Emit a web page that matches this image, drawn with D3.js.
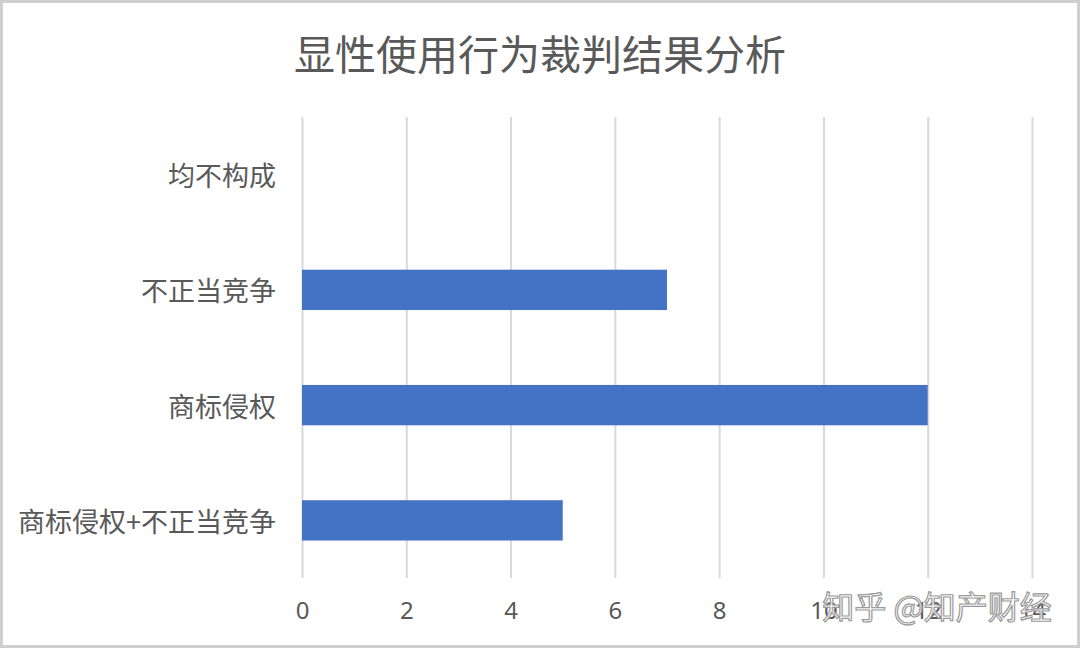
<!DOCTYPE html>
<html>
<head>
<meta charset="utf-8">
<script src="https://cdn.jsdelivr.net/npm/d3@7"></script>
<style>
  html, body { margin: 0; padding: 0; background: #fff; }
  svg { display: block; font-family: "Noto Sans CJK SC", "Noto Sans", sans-serif; }
</style>
</head>
<body>
<div class="chart"></div>
<script>
// data
const title = '显性使用行为裁判结果分析';
const categories = ['均不构成', '不正当竞争', '商标侵权', '商标侵权+不正当竞争'];
const counts = [0, 7, 12, 5];
const xTicks = [0, 2, 4, 6, 8, 10, 12, 14];
const watermark = '知乎 @知产财经';

const svg_width = 1080;
const svg_height = 649;
const plot = {left: 302, right: 1032, top: 117, bottom: 578};

const svg = d3.select('.chart').append('svg')
  .attr('width', svg_width).attr('height', svg_height);

// frame
svg.append('rect')
  .attr('x', 1.5).attr('y', 1.5)
  .attr('width', svg_width - 3).attr('height', svg_height - 4)
  .attr('fill', '#fff').attr('stroke', '#cfcfcf').attr('stroke-width', 3);

const xScale = d3.scaleLinear().domain([0, 14]).range([plot.left, plot.right]);
const yScale = d3.scaleBand().domain(categories).range([plot.top, plot.bottom])
  .paddingInner(0.65).paddingOuter(0.325);

// gridlines + tick labels
const xAxis = d3.axisBottom(xScale).tickValues(xTicks).tickFormat(d3.format('d'))
  .tickSizeInner(-(plot.bottom - plot.top)).tickSizeOuter(0).tickPadding(24);
const xAxisDraw = svg.append('g').attr('class', 'x axis')
  .attr('transform', `translate(0,${plot.bottom})`)
  .call(xAxis);
xAxisDraw.select('.domain').remove();
xAxisDraw.selectAll('line').attr('stroke', '#d9d9d9').attr('stroke-width', 2);
xAxisDraw.selectAll('text')
  .attr('fill', '#595959').style('font-size', '24px')
  .style('font-family', '"Noto Sans", "DejaVu Sans", sans-serif');

// bars
const rows = categories.map((c, i) => ({cat: c, value: counts[i]}));
svg.append('g').attr('class', 'bars')
  .selectAll('rect').data(rows).join('rect')
  .attr('x', xScale(0))
  .attr('y', d => yScale(d.cat))
  .attr('width', d => xScale(d.value) - xScale(0))
  .attr('height', yScale.bandwidth())
  .attr('fill', '#4472c4');

// category labels
svg.append('g').attr('class', 'y labels')
  .selectAll('text').data(categories).join('text')
  .attr('x', plot.left - 26)
  .attr('y', d => yScale(d) + yScale.bandwidth() / 2)
  .attr('text-anchor', 'end')
  .attr('dominant-baseline', 'central')
  .attr('fill', '#595959')
  .style('font-size', '27px')
  .text(d => d);

// title
svg.append('text')
  .attr('x', 540).attr('y', 52)
  .attr('text-anchor', 'middle').attr('dominant-baseline', 'central')
  .attr('fill', '#595959')
  .style('font-size', '41px')
  .text(title);

// watermark (sits over the last tick labels, as in the source image)
svg.append('text')
  .attr('x', 937).attr('y', 605)
  .attr('text-anchor', 'middle').attr('dominant-baseline', 'central')
  .attr('fill', '#ffffff').attr('fill-opacity', 0.85)
  .attr('stroke', '#9a9a9a').attr('stroke-width', 1.2)
  .style('font-size', '32px')
  .text(watermark);
</script>
</body>
</html>
